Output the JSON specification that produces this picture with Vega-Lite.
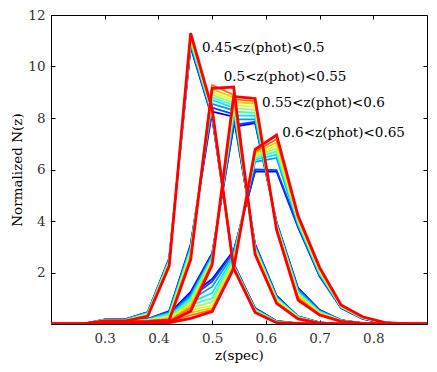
{
"$schema": "https://vega.github.io/schema/vega-lite/v6.json",
"width": 376, "height": 309,
"autosize": {"type": "none"},
"padding": {"left": 51, "top": 15, "right": 10, "bottom": 48},
"background": "white",
"config": {"view": {"stroke": "black", "strokeWidth": 1}, "font": "DejaVu Serif"},
"datasets": {
"labels": [
{"label": "0.45<z(phot)<0.5", "x": 0.481, "y": 10.72},
{"label": "0.5<z(phot)<0.55", "x": 0.5215, "y": 9.6},
{"label": "0.55<z(phot)<0.6", "x": 0.593, "y": 8.57},
{"label": "0.6<z(phot)<0.65", "x": 0.6305, "y": 7.4}
],
"nz": [
{"s":1,"g":1,"x":0.18,"y":0},{"s":1,"g":1,"x":0.26,"y":0},{"s":1,"g":1,"x":0.3,"y":0.18},{"s":1,"g":1,"x":0.34,"y":0.2},{"s":1,"g":1,"x":0.38,"y":0.46},{"s":1,"g":1,"x":0.42,"y":2.55},{"s":1,"g":1,"x":0.46,"y":10.75},{"s":1,"g":1,"x":0.5,"y":8.0},{"s":1,"g":1,"x":0.54,"y":2.35},{"s":1,"g":1,"x":0.58,"y":0.62},{"s":1,"g":1,"x":0.62,"y":0.12},{"s":1,"g":1,"x":0.66,"y":0.02},{"s":1,"g":1,"x":0.7,"y":0},{"s":1,"g":1,"x":0.94,"y":0},
{"s":1,"g":2,"x":0.18,"y":0},{"s":1,"g":2,"x":0.26,"y":0},{"s":1,"g":2,"x":0.3,"y":0.15},{"s":1,"g":2,"x":0.34,"y":0.15},{"s":1,"g":2,"x":0.38,"y":0.2},{"s":1,"g":2,"x":0.42,"y":0.5},{"s":1,"g":2,"x":0.46,"y":3.1},{"s":1,"g":2,"x":0.5,"y":8.25},{"s":1,"g":2,"x":0.54,"y":8.05},{"s":1,"g":2,"x":0.58,"y":3.1},{"s":1,"g":2,"x":0.62,"y":1.1},{"s":1,"g":2,"x":0.66,"y":0.3},{"s":1,"g":2,"x":0.7,"y":0.06},{"s":1,"g":2,"x":0.74,"y":0},{"s":1,"g":2,"x":0.94,"y":0},
{"s":1,"g":3,"x":0.18,"y":0},{"s":1,"g":3,"x":0.26,"y":0},{"s":1,"g":3,"x":0.3,"y":0.12},{"s":1,"g":3,"x":0.34,"y":0.1},{"s":1,"g":3,"x":0.38,"y":0.15},{"s":1,"g":3,"x":0.42,"y":0.4},{"s":1,"g":3,"x":0.46,"y":1.25},{"s":1,"g":3,"x":0.5,"y":2.75},{"s":1,"g":3,"x":0.54,"y":7.66},{"s":1,"g":3,"x":0.58,"y":7.8},{"s":1,"g":3,"x":0.62,"y":3.95},{"s":1,"g":3,"x":0.66,"y":1.4},{"s":1,"g":3,"x":0.7,"y":0.55},{"s":1,"g":3,"x":0.74,"y":0.15},{"s":1,"g":3,"x":0.78,"y":0.03},{"s":1,"g":3,"x":0.82,"y":0},{"s":1,"g":3,"x":0.94,"y":0},
{"s":1,"g":4,"x":0.18,"y":0},{"s":1,"g":4,"x":0.26,"y":0},{"s":1,"g":4,"x":0.3,"y":0.1},{"s":1,"g":4,"x":0.34,"y":0.1},{"s":1,"g":4,"x":0.38,"y":0.15},{"s":1,"g":4,"x":0.42,"y":0.45},{"s":1,"g":4,"x":0.46,"y":1.1},{"s":1,"g":4,"x":0.5,"y":1.75},{"s":1,"g":4,"x":0.54,"y":2.85},{"s":1,"g":4,"x":0.58,"y":5.92},{"s":1,"g":4,"x":0.62,"y":5.92},{"s":1,"g":4,"x":0.66,"y":3.75},{"s":1,"g":4,"x":0.7,"y":1.85},{"s":1,"g":4,"x":0.74,"y":0.62},{"s":1,"g":4,"x":0.78,"y":0.2},{"s":1,"g":4,"x":0.82,"y":0.03},{"s":1,"g":4,"x":0.86,"y":0},{"s":1,"g":4,"x":0.94,"y":0},

{"s":2,"g":1,"x":0.18,"y":0},{"s":2,"g":1,"x":0.26,"y":0},{"s":2,"g":1,"x":0.3,"y":0.18},{"s":2,"g":1,"x":0.34,"y":0.19},{"s":2,"g":1,"x":0.38,"y":0.45},{"s":2,"g":1,"x":0.42,"y":2.53},{"s":2,"g":1,"x":0.46,"y":10.8},{"s":2,"g":1,"x":0.5,"y":8.05},{"s":2,"g":1,"x":0.54,"y":2.33},{"s":2,"g":1,"x":0.58,"y":0.6},{"s":2,"g":1,"x":0.62,"y":0.11},{"s":2,"g":1,"x":0.66,"y":0.02},{"s":2,"g":1,"x":0.7,"y":0},{"s":2,"g":1,"x":0.94,"y":0},
{"s":2,"g":2,"x":0.18,"y":0},{"s":2,"g":2,"x":0.26,"y":0},{"s":2,"g":2,"x":0.3,"y":0.15},{"s":2,"g":2,"x":0.34,"y":0.14},{"s":2,"g":2,"x":0.38,"y":0.19},{"s":2,"g":2,"x":0.42,"y":0.47},{"s":2,"g":2,"x":0.46,"y":3.05},{"s":2,"g":2,"x":0.5,"y":8.4},{"s":2,"g":2,"x":0.54,"y":8.15},{"s":2,"g":2,"x":0.58,"y":3.06},{"s":2,"g":2,"x":0.62,"y":1.07},{"s":2,"g":2,"x":0.66,"y":0.29},{"s":2,"g":2,"x":0.7,"y":0.06},{"s":2,"g":2,"x":0.74,"y":0},{"s":2,"g":2,"x":0.94,"y":0},
{"s":2,"g":3,"x":0.18,"y":0},{"s":2,"g":3,"x":0.26,"y":0},{"s":2,"g":3,"x":0.3,"y":0.12},{"s":2,"g":3,"x":0.34,"y":0.1},{"s":2,"g":3,"x":0.38,"y":0.14},{"s":2,"g":3,"x":0.42,"y":0.37},{"s":2,"g":3,"x":0.46,"y":1.18},{"s":2,"g":3,"x":0.5,"y":2.7},{"s":2,"g":3,"x":0.54,"y":7.73},{"s":2,"g":3,"x":0.58,"y":7.85},{"s":2,"g":3,"x":0.62,"y":3.92},{"s":2,"g":3,"x":0.66,"y":1.36},{"s":2,"g":3,"x":0.7,"y":0.53},{"s":2,"g":3,"x":0.74,"y":0.15},{"s":2,"g":3,"x":0.78,"y":0.03},{"s":2,"g":3,"x":0.82,"y":0},{"s":2,"g":3,"x":0.94,"y":0},
{"s":2,"g":4,"x":0.18,"y":0},{"s":2,"g":4,"x":0.26,"y":0},{"s":2,"g":4,"x":0.3,"y":0.1},{"s":2,"g":4,"x":0.34,"y":0.09},{"s":2,"g":4,"x":0.38,"y":0.14},{"s":2,"g":4,"x":0.42,"y":0.42},{"s":2,"g":4,"x":0.46,"y":1.02},{"s":2,"g":4,"x":0.5,"y":1.65},{"s":2,"g":4,"x":0.54,"y":2.8},{"s":2,"g":4,"x":0.58,"y":6.0},{"s":2,"g":4,"x":0.62,"y":5.98},{"s":2,"g":4,"x":0.66,"y":3.8},{"s":2,"g":4,"x":0.7,"y":1.88},{"s":2,"g":4,"x":0.74,"y":0.63},{"s":2,"g":4,"x":0.78,"y":0.21},{"s":2,"g":4,"x":0.82,"y":0.03},{"s":2,"g":4,"x":0.86,"y":0},{"s":2,"g":4,"x":0.94,"y":0},

{"s":3,"g":1,"x":0.18,"y":0},{"s":3,"g":1,"x":0.26,"y":0},{"s":3,"g":1,"x":0.3,"y":0.17},{"s":3,"g":1,"x":0.34,"y":0.18},{"s":3,"g":1,"x":0.38,"y":0.44},{"s":3,"g":1,"x":0.42,"y":2.5},{"s":3,"g":1,"x":0.46,"y":10.87},{"s":3,"g":1,"x":0.5,"y":8.1},{"s":3,"g":1,"x":0.54,"y":2.31},{"s":3,"g":1,"x":0.58,"y":0.58},{"s":3,"g":1,"x":0.62,"y":0.1},{"s":3,"g":1,"x":0.66,"y":0.02},{"s":3,"g":1,"x":0.7,"y":0},{"s":3,"g":1,"x":0.94,"y":0},
{"s":3,"g":2,"x":0.18,"y":0},{"s":3,"g":2,"x":0.26,"y":0},{"s":3,"g":2,"x":0.3,"y":0.14},{"s":3,"g":2,"x":0.34,"y":0.14},{"s":3,"g":2,"x":0.38,"y":0.18},{"s":3,"g":2,"x":0.42,"y":0.44},{"s":3,"g":2,"x":0.46,"y":3.0},{"s":3,"g":2,"x":0.5,"y":8.55},{"s":3,"g":2,"x":0.54,"y":8.3},{"s":3,"g":2,"x":0.58,"y":3.02},{"s":3,"g":2,"x":0.62,"y":1.04},{"s":3,"g":2,"x":0.66,"y":0.28},{"s":3,"g":2,"x":0.7,"y":0.05},{"s":3,"g":2,"x":0.74,"y":0},{"s":3,"g":2,"x":0.94,"y":0},
{"s":3,"g":3,"x":0.18,"y":0},{"s":3,"g":3,"x":0.26,"y":0},{"s":3,"g":3,"x":0.3,"y":0.11},{"s":3,"g":3,"x":0.34,"y":0.09},{"s":3,"g":3,"x":0.38,"y":0.13},{"s":3,"g":3,"x":0.42,"y":0.33},{"s":3,"g":3,"x":0.46,"y":1.1},{"s":3,"g":3,"x":0.5,"y":2.65},{"s":3,"g":3,"x":0.54,"y":7.95},{"s":3,"g":3,"x":0.58,"y":7.95},{"s":3,"g":3,"x":0.62,"y":3.89},{"s":3,"g":3,"x":0.66,"y":1.31},{"s":3,"g":3,"x":0.7,"y":0.51},{"s":3,"g":3,"x":0.74,"y":0.14},{"s":3,"g":3,"x":0.78,"y":0.03},{"s":3,"g":3,"x":0.82,"y":0},{"s":3,"g":3,"x":0.94,"y":0},
{"s":3,"g":4,"x":0.18,"y":0},{"s":3,"g":4,"x":0.26,"y":0},{"s":3,"g":4,"x":0.3,"y":0.09},{"s":3,"g":4,"x":0.34,"y":0.09},{"s":3,"g":4,"x":0.38,"y":0.13},{"s":3,"g":4,"x":0.42,"y":0.38},{"s":3,"g":4,"x":0.46,"y":0.93},{"s":3,"g":4,"x":0.5,"y":1.45},{"s":3,"g":4,"x":0.54,"y":2.72},{"s":3,"g":4,"x":0.58,"y":6.3},{"s":3,"g":4,"x":0.62,"y":6.45},{"s":3,"g":4,"x":0.66,"y":3.85},{"s":3,"g":4,"x":0.7,"y":1.92},{"s":3,"g":4,"x":0.74,"y":0.64},{"s":3,"g":4,"x":0.78,"y":0.22},{"s":3,"g":4,"x":0.82,"y":0.04},{"s":3,"g":4,"x":0.86,"y":0},{"s":3,"g":4,"x":0.94,"y":0},

{"s":4,"g":1,"x":0.18,"y":0},{"s":4,"g":1,"x":0.26,"y":0},{"s":4,"g":1,"x":0.3,"y":0.17},{"s":4,"g":1,"x":0.34,"y":0.17},{"s":4,"g":1,"x":0.38,"y":0.42},{"s":4,"g":1,"x":0.42,"y":2.47},{"s":4,"g":1,"x":0.46,"y":10.93},{"s":4,"g":1,"x":0.5,"y":8.14},{"s":4,"g":1,"x":0.54,"y":2.29},{"s":4,"g":1,"x":0.58,"y":0.56},{"s":4,"g":1,"x":0.62,"y":0.1},{"s":4,"g":1,"x":0.66,"y":0.02},{"s":4,"g":1,"x":0.7,"y":0},{"s":4,"g":1,"x":0.94,"y":0},
{"s":4,"g":2,"x":0.18,"y":0},{"s":4,"g":2,"x":0.26,"y":0},{"s":4,"g":2,"x":0.3,"y":0.14},{"s":4,"g":2,"x":0.34,"y":0.13},{"s":4,"g":2,"x":0.38,"y":0.17},{"s":4,"g":2,"x":0.42,"y":0.4},{"s":4,"g":2,"x":0.46,"y":2.93},{"s":4,"g":2,"x":0.5,"y":8.7},{"s":4,"g":2,"x":0.54,"y":8.4},{"s":4,"g":2,"x":0.58,"y":2.98},{"s":4,"g":2,"x":0.62,"y":1.01},{"s":4,"g":2,"x":0.66,"y":0.27},{"s":4,"g":2,"x":0.7,"y":0.05},{"s":4,"g":2,"x":0.74,"y":0},{"s":4,"g":2,"x":0.94,"y":0},
{"s":4,"g":3,"x":0.18,"y":0},{"s":4,"g":3,"x":0.26,"y":0},{"s":4,"g":3,"x":0.3,"y":0.11},{"s":4,"g":3,"x":0.34,"y":0.09},{"s":4,"g":3,"x":0.38,"y":0.12},{"s":4,"g":3,"x":0.42,"y":0.3},{"s":4,"g":3,"x":0.46,"y":1.02},{"s":4,"g":3,"x":0.5,"y":2.6},{"s":4,"g":3,"x":0.54,"y":8.1},{"s":4,"g":3,"x":0.58,"y":8.08},{"s":4,"g":3,"x":0.62,"y":3.86},{"s":4,"g":3,"x":0.66,"y":1.26},{"s":4,"g":3,"x":0.7,"y":0.48},{"s":4,"g":3,"x":0.74,"y":0.14},{"s":4,"g":3,"x":0.78,"y":0.03},{"s":4,"g":3,"x":0.82,"y":0},{"s":4,"g":3,"x":0.94,"y":0},
{"s":4,"g":4,"x":0.18,"y":0},{"s":4,"g":4,"x":0.26,"y":0},{"s":4,"g":4,"x":0.3,"y":0.09},{"s":4,"g":4,"x":0.34,"y":0.08},{"s":4,"g":4,"x":0.38,"y":0.11},{"s":4,"g":4,"x":0.42,"y":0.33},{"s":4,"g":4,"x":0.46,"y":0.84},{"s":4,"g":4,"x":0.5,"y":1.2},{"s":4,"g":4,"x":0.54,"y":2.62},{"s":4,"g":4,"x":0.58,"y":6.38},{"s":4,"g":4,"x":0.62,"y":6.58},{"s":4,"g":4,"x":0.66,"y":3.9},{"s":4,"g":4,"x":0.7,"y":1.96},{"s":4,"g":4,"x":0.74,"y":0.66},{"s":4,"g":4,"x":0.78,"y":0.23},{"s":4,"g":4,"x":0.82,"y":0.04},{"s":4,"g":4,"x":0.86,"y":0},{"s":4,"g":4,"x":0.94,"y":0},

{"s":5,"g":1,"x":0.18,"y":0},{"s":5,"g":1,"x":0.26,"y":0},{"s":5,"g":1,"x":0.3,"y":0.16},{"s":5,"g":1,"x":0.34,"y":0.16},{"s":5,"g":1,"x":0.38,"y":0.4},{"s":5,"g":1,"x":0.42,"y":2.43},{"s":5,"g":1,"x":0.46,"y":11.0},{"s":5,"g":1,"x":0.5,"y":8.18},{"s":5,"g":1,"x":0.54,"y":2.27},{"s":5,"g":1,"x":0.58,"y":0.54},{"s":5,"g":1,"x":0.62,"y":0.09},{"s":5,"g":1,"x":0.66,"y":0.02},{"s":5,"g":1,"x":0.7,"y":0},{"s":5,"g":1,"x":0.94,"y":0},
{"s":5,"g":2,"x":0.18,"y":0},{"s":5,"g":2,"x":0.26,"y":0},{"s":5,"g":2,"x":0.3,"y":0.13},{"s":5,"g":2,"x":0.34,"y":0.12},{"s":5,"g":2,"x":0.38,"y":0.16},{"s":5,"g":2,"x":0.42,"y":0.36},{"s":5,"g":2,"x":0.46,"y":2.86},{"s":5,"g":2,"x":0.5,"y":8.8},{"s":5,"g":2,"x":0.54,"y":8.5},{"s":5,"g":2,"x":0.58,"y":2.94},{"s":5,"g":2,"x":0.62,"y":0.98},{"s":5,"g":2,"x":0.66,"y":0.26},{"s":5,"g":2,"x":0.7,"y":0.05},{"s":5,"g":2,"x":0.74,"y":0},{"s":5,"g":2,"x":0.94,"y":0},
{"s":5,"g":3,"x":0.18,"y":0},{"s":5,"g":3,"x":0.26,"y":0},{"s":5,"g":3,"x":0.3,"y":0.1},{"s":5,"g":3,"x":0.34,"y":0.08},{"s":5,"g":3,"x":0.38,"y":0.11},{"s":5,"g":3,"x":0.42,"y":0.26},{"s":5,"g":3,"x":0.46,"y":0.95},{"s":5,"g":3,"x":0.5,"y":2.55},{"s":5,"g":3,"x":0.54,"y":8.25},{"s":5,"g":3,"x":0.58,"y":8.2},{"s":5,"g":3,"x":0.62,"y":3.83},{"s":5,"g":3,"x":0.66,"y":1.21},{"s":5,"g":3,"x":0.7,"y":0.46},{"s":5,"g":3,"x":0.74,"y":0.13},{"s":5,"g":3,"x":0.78,"y":0.02},{"s":5,"g":3,"x":0.82,"y":0},{"s":5,"g":3,"x":0.94,"y":0},
{"s":5,"g":4,"x":0.18,"y":0},{"s":5,"g":4,"x":0.26,"y":0},{"s":5,"g":4,"x":0.3,"y":0.08},{"s":5,"g":4,"x":0.34,"y":0.07},{"s":5,"g":4,"x":0.38,"y":0.1},{"s":5,"g":4,"x":0.42,"y":0.28},{"s":5,"g":4,"x":0.46,"y":0.74},{"s":5,"g":4,"x":0.5,"y":1.0},{"s":5,"g":4,"x":0.54,"y":2.52},{"s":5,"g":4,"x":0.58,"y":6.45},{"s":5,"g":4,"x":0.62,"y":6.7},{"s":5,"g":4,"x":0.66,"y":3.95},{"s":5,"g":4,"x":0.7,"y":2.0},{"s":5,"g":4,"x":0.74,"y":0.67},{"s":5,"g":4,"x":0.78,"y":0.24},{"s":5,"g":4,"x":0.82,"y":0.04},{"s":5,"g":4,"x":0.86,"y":0},{"s":5,"g":4,"x":0.94,"y":0},

{"s":6,"g":1,"x":0.18,"y":0},{"s":6,"g":1,"x":0.26,"y":0},{"s":6,"g":1,"x":0.3,"y":0.15},{"s":6,"g":1,"x":0.34,"y":0.15},{"s":6,"g":1,"x":0.38,"y":0.38},{"s":6,"g":1,"x":0.42,"y":2.4},{"s":6,"g":1,"x":0.46,"y":11.06},{"s":6,"g":1,"x":0.5,"y":8.22},{"s":6,"g":1,"x":0.54,"y":2.25},{"s":6,"g":1,"x":0.58,"y":0.52},{"s":6,"g":1,"x":0.62,"y":0.08},{"s":6,"g":1,"x":0.66,"y":0.02},{"s":6,"g":1,"x":0.7,"y":0},{"s":6,"g":1,"x":0.94,"y":0},
{"s":6,"g":2,"x":0.18,"y":0},{"s":6,"g":2,"x":0.26,"y":0},{"s":6,"g":2,"x":0.3,"y":0.13},{"s":6,"g":2,"x":0.34,"y":0.11},{"s":6,"g":2,"x":0.38,"y":0.14},{"s":6,"g":2,"x":0.42,"y":0.32},{"s":6,"g":2,"x":0.46,"y":2.8},{"s":6,"g":2,"x":0.5,"y":8.9},{"s":6,"g":2,"x":0.54,"y":8.6},{"s":6,"g":2,"x":0.58,"y":2.9},{"s":6,"g":2,"x":0.62,"y":0.95},{"s":6,"g":2,"x":0.66,"y":0.25},{"s":6,"g":2,"x":0.7,"y":0.04},{"s":6,"g":2,"x":0.74,"y":0},{"s":6,"g":2,"x":0.94,"y":0},
{"s":6,"g":3,"x":0.18,"y":0},{"s":6,"g":3,"x":0.26,"y":0},{"s":6,"g":3,"x":0.3,"y":0.1},{"s":6,"g":3,"x":0.34,"y":0.07},{"s":6,"g":3,"x":0.38,"y":0.1},{"s":6,"g":3,"x":0.42,"y":0.23},{"s":6,"g":3,"x":0.46,"y":0.87},{"s":6,"g":3,"x":0.5,"y":2.5},{"s":6,"g":3,"x":0.54,"y":8.38},{"s":6,"g":3,"x":0.58,"y":8.32},{"s":6,"g":3,"x":0.62,"y":3.8},{"s":6,"g":3,"x":0.66,"y":1.16},{"s":6,"g":3,"x":0.7,"y":0.44},{"s":6,"g":3,"x":0.74,"y":0.13},{"s":6,"g":3,"x":0.78,"y":0.02},{"s":6,"g":3,"x":0.82,"y":0},{"s":6,"g":3,"x":0.94,"y":0},
{"s":6,"g":4,"x":0.18,"y":0},{"s":6,"g":4,"x":0.26,"y":0},{"s":6,"g":4,"x":0.3,"y":0.08},{"s":6,"g":4,"x":0.34,"y":0.06},{"s":6,"g":4,"x":0.38,"y":0.08},{"s":6,"g":4,"x":0.42,"y":0.23},{"s":6,"g":4,"x":0.46,"y":0.64},{"s":6,"g":4,"x":0.5,"y":0.85},{"s":6,"g":4,"x":0.54,"y":2.45},{"s":6,"g":4,"x":0.58,"y":6.52},{"s":6,"g":4,"x":0.62,"y":6.82},{"s":6,"g":4,"x":0.66,"y":4.0},{"s":6,"g":4,"x":0.7,"y":2.04},{"s":6,"g":4,"x":0.74,"y":0.68},{"s":6,"g":4,"x":0.78,"y":0.24},{"s":6,"g":4,"x":0.82,"y":0.05},{"s":6,"g":4,"x":0.86,"y":0},{"s":6,"g":4,"x":0.94,"y":0},

{"s":7,"g":1,"x":0.18,"y":0},{"s":7,"g":1,"x":0.26,"y":0},{"s":7,"g":1,"x":0.3,"y":0.14},{"s":7,"g":1,"x":0.34,"y":0.14},{"s":7,"g":1,"x":0.38,"y":0.36},{"s":7,"g":1,"x":0.42,"y":2.36},{"s":7,"g":1,"x":0.46,"y":11.12},{"s":7,"g":1,"x":0.5,"y":8.26},{"s":7,"g":1,"x":0.54,"y":2.23},{"s":7,"g":1,"x":0.58,"y":0.5},{"s":7,"g":1,"x":0.62,"y":0.07},{"s":7,"g":1,"x":0.66,"y":0.02},{"s":7,"g":1,"x":0.7,"y":0},{"s":7,"g":1,"x":0.94,"y":0},
{"s":7,"g":2,"x":0.18,"y":0},{"s":7,"g":2,"x":0.26,"y":0},{"s":7,"g":2,"x":0.3,"y":0.12},{"s":7,"g":2,"x":0.34,"y":0.1},{"s":7,"g":2,"x":0.38,"y":0.13},{"s":7,"g":2,"x":0.42,"y":0.28},{"s":7,"g":2,"x":0.46,"y":2.73},{"s":7,"g":2,"x":0.5,"y":9.0},{"s":7,"g":2,"x":0.54,"y":8.7},{"s":7,"g":2,"x":0.58,"y":2.85},{"s":7,"g":2,"x":0.62,"y":0.91},{"s":7,"g":2,"x":0.66,"y":0.24},{"s":7,"g":2,"x":0.7,"y":0.04},{"s":7,"g":2,"x":0.74,"y":0},{"s":7,"g":2,"x":0.94,"y":0},
{"s":7,"g":3,"x":0.18,"y":0},{"s":7,"g":3,"x":0.26,"y":0},{"s":7,"g":3,"x":0.3,"y":0.09},{"s":7,"g":3,"x":0.34,"y":0.07},{"s":7,"g":3,"x":0.38,"y":0.09},{"s":7,"g":3,"x":0.42,"y":0.19},{"s":7,"g":3,"x":0.46,"y":0.8},{"s":7,"g":3,"x":0.5,"y":2.45},{"s":7,"g":3,"x":0.54,"y":8.5},{"s":7,"g":3,"x":0.58,"y":8.44},{"s":7,"g":3,"x":0.62,"y":3.76},{"s":7,"g":3,"x":0.66,"y":1.11},{"s":7,"g":3,"x":0.7,"y":0.42},{"s":7,"g":3,"x":0.74,"y":0.12},{"s":7,"g":3,"x":0.78,"y":0.02},{"s":7,"g":3,"x":0.82,"y":0},{"s":7,"g":3,"x":0.94,"y":0},
{"s":7,"g":4,"x":0.18,"y":0},{"s":7,"g":4,"x":0.26,"y":0},{"s":7,"g":4,"x":0.3,"y":0.07},{"s":7,"g":4,"x":0.34,"y":0.05},{"s":7,"g":4,"x":0.38,"y":0.07},{"s":7,"g":4,"x":0.42,"y":0.18},{"s":7,"g":4,"x":0.46,"y":0.54},{"s":7,"g":4,"x":0.5,"y":0.72},{"s":7,"g":4,"x":0.54,"y":2.38},{"s":7,"g":4,"x":0.58,"y":6.58},{"s":7,"g":4,"x":0.62,"y":6.93},{"s":7,"g":4,"x":0.66,"y":4.05},{"s":7,"g":4,"x":0.7,"y":2.08},{"s":7,"g":4,"x":0.74,"y":0.7},{"s":7,"g":4,"x":0.78,"y":0.25},{"s":7,"g":4,"x":0.82,"y":0.05},{"s":7,"g":4,"x":0.86,"y":0},{"s":7,"g":4,"x":0.94,"y":0},

{"s":8,"g":1,"x":0.18,"y":0},{"s":8,"g":1,"x":0.26,"y":0},{"s":8,"g":1,"x":0.3,"y":0.14},{"s":8,"g":1,"x":0.34,"y":0.13},{"s":8,"g":1,"x":0.38,"y":0.34},{"s":8,"g":1,"x":0.42,"y":2.32},{"s":8,"g":1,"x":0.46,"y":11.18},{"s":8,"g":1,"x":0.5,"y":8.3},{"s":8,"g":1,"x":0.54,"y":2.2},{"s":8,"g":1,"x":0.58,"y":0.48},{"s":8,"g":1,"x":0.62,"y":0.06},{"s":8,"g":1,"x":0.66,"y":0.02},{"s":8,"g":1,"x":0.7,"y":0},{"s":8,"g":1,"x":0.94,"y":0},
{"s":8,"g":2,"x":0.18,"y":0},{"s":8,"g":2,"x":0.26,"y":0},{"s":8,"g":2,"x":0.3,"y":0.11},{"s":8,"g":2,"x":0.34,"y":0.09},{"s":8,"g":2,"x":0.38,"y":0.12},{"s":8,"g":2,"x":0.42,"y":0.23},{"s":8,"g":2,"x":0.46,"y":2.66},{"s":8,"g":2,"x":0.5,"y":9.12},{"s":8,"g":2,"x":0.54,"y":8.8},{"s":8,"g":2,"x":0.58,"y":2.8},{"s":8,"g":2,"x":0.62,"y":0.87},{"s":8,"g":2,"x":0.66,"y":0.22},{"s":8,"g":2,"x":0.7,"y":0.04},{"s":8,"g":2,"x":0.74,"y":0},{"s":8,"g":2,"x":0.94,"y":0},
{"s":8,"g":3,"x":0.18,"y":0},{"s":8,"g":3,"x":0.26,"y":0},{"s":8,"g":3,"x":0.3,"y":0.09},{"s":8,"g":3,"x":0.34,"y":0.06},{"s":8,"g":3,"x":0.38,"y":0.08},{"s":8,"g":3,"x":0.42,"y":0.15},{"s":8,"g":3,"x":0.46,"y":0.72},{"s":8,"g":3,"x":0.5,"y":2.4},{"s":8,"g":3,"x":0.54,"y":8.62},{"s":8,"g":3,"x":0.58,"y":8.56},{"s":8,"g":3,"x":0.62,"y":3.72},{"s":8,"g":3,"x":0.66,"y":1.06},{"s":8,"g":3,"x":0.7,"y":0.4},{"s":8,"g":3,"x":0.74,"y":0.11},{"s":8,"g":3,"x":0.78,"y":0.02},{"s":8,"g":3,"x":0.82,"y":0},{"s":8,"g":3,"x":0.94,"y":0},
{"s":8,"g":4,"x":0.18,"y":0},{"s":8,"g":4,"x":0.26,"y":0},{"s":8,"g":4,"x":0.3,"y":0.06},{"s":8,"g":4,"x":0.34,"y":0.04},{"s":8,"g":4,"x":0.38,"y":0.05},{"s":8,"g":4,"x":0.42,"y":0.13},{"s":8,"g":4,"x":0.46,"y":0.44},{"s":8,"g":4,"x":0.5,"y":0.62},{"s":8,"g":4,"x":0.54,"y":2.3},{"s":8,"g":4,"x":0.58,"y":6.64},{"s":8,"g":4,"x":0.62,"y":7.05},{"s":8,"g":4,"x":0.66,"y":4.1},{"s":8,"g":4,"x":0.7,"y":2.12},{"s":8,"g":4,"x":0.74,"y":0.71},{"s":8,"g":4,"x":0.78,"y":0.26},{"s":8,"g":4,"x":0.82,"y":0.05},{"s":8,"g":4,"x":0.86,"y":0},{"s":8,"g":4,"x":0.94,"y":0},

{"s":9,"g":1,"x":0.18,"y":0},{"s":9,"g":1,"x":0.26,"y":0},{"s":9,"g":1,"x":0.3,"y":0.13},{"s":9,"g":1,"x":0.34,"y":0.13},{"s":9,"g":1,"x":0.38,"y":0.32},{"s":9,"g":1,"x":0.42,"y":2.28},{"s":9,"g":1,"x":0.46,"y":11.24},{"s":9,"g":1,"x":0.5,"y":8.33},{"s":9,"g":1,"x":0.54,"y":2.18},{"s":9,"g":1,"x":0.58,"y":0.46},{"s":9,"g":1,"x":0.62,"y":0.06},{"s":9,"g":1,"x":0.66,"y":0.02},{"s":9,"g":1,"x":0.7,"y":0},{"s":9,"g":1,"x":0.94,"y":0},
{"s":9,"g":2,"x":0.18,"y":0},{"s":9,"g":2,"x":0.26,"y":0},{"s":9,"g":2,"x":0.3,"y":0.11},{"s":9,"g":2,"x":0.34,"y":0.09},{"s":9,"g":2,"x":0.38,"y":0.11},{"s":9,"g":2,"x":0.42,"y":0.19},{"s":9,"g":2,"x":0.46,"y":2.58},{"s":9,"g":2,"x":0.5,"y":9.28},{"s":9,"g":2,"x":0.54,"y":8.9},{"s":9,"g":2,"x":0.58,"y":2.75},{"s":9,"g":2,"x":0.62,"y":0.83},{"s":9,"g":2,"x":0.66,"y":0.21},{"s":9,"g":2,"x":0.7,"y":0.03},{"s":9,"g":2,"x":0.74,"y":0},{"s":9,"g":2,"x":0.94,"y":0},
{"s":9,"g":3,"x":0.18,"y":0},{"s":9,"g":3,"x":0.26,"y":0},{"s":9,"g":3,"x":0.3,"y":0.08},{"s":9,"g":3,"x":0.34,"y":0.06},{"s":9,"g":3,"x":0.38,"y":0.06},{"s":9,"g":3,"x":0.42,"y":0.11},{"s":9,"g":3,"x":0.46,"y":0.63},{"s":9,"g":3,"x":0.5,"y":2.35},{"s":9,"g":3,"x":0.54,"y":8.72},{"s":9,"g":3,"x":0.58,"y":8.66},{"s":9,"g":3,"x":0.62,"y":3.68},{"s":9,"g":3,"x":0.66,"y":1.0},{"s":9,"g":3,"x":0.7,"y":0.37},{"s":9,"g":3,"x":0.74,"y":0.11},{"s":9,"g":3,"x":0.78,"y":0.02},{"s":9,"g":3,"x":0.82,"y":0},{"s":9,"g":3,"x":0.94,"y":0},
{"s":9,"g":4,"x":0.18,"y":0},{"s":9,"g":4,"x":0.26,"y":0},{"s":9,"g":4,"x":0.3,"y":0.06},{"s":9,"g":4,"x":0.34,"y":0.04},{"s":9,"g":4,"x":0.38,"y":0.04},{"s":9,"g":4,"x":0.42,"y":0.09},{"s":9,"g":4,"x":0.46,"y":0.34},{"s":9,"g":4,"x":0.5,"y":0.55},{"s":9,"g":4,"x":0.54,"y":2.22},{"s":9,"g":4,"x":0.58,"y":6.7},{"s":9,"g":4,"x":0.62,"y":7.18},{"s":9,"g":4,"x":0.66,"y":4.15},{"s":9,"g":4,"x":0.7,"y":2.16},{"s":9,"g":4,"x":0.74,"y":0.72},{"s":9,"g":4,"x":0.78,"y":0.27},{"s":9,"g":4,"x":0.82,"y":0.06},{"s":9,"g":4,"x":0.86,"y":0},{"s":9,"g":4,"x":0.94,"y":0},

{"s":10,"g":1,"x":0.18,"y":0},{"s":10,"g":1,"x":0.26,"y":0},{"s":10,"g":1,"x":0.3,"y":0.12},{"s":10,"g":1,"x":0.34,"y":0.12},{"s":10,"g":1,"x":0.38,"y":0.3},{"s":10,"g":1,"x":0.42,"y":2.25},{"s":10,"g":1,"x":0.46,"y":11.3},{"s":10,"g":1,"x":0.5,"y":8.36},{"s":10,"g":1,"x":0.54,"y":2.16},{"s":10,"g":1,"x":0.58,"y":0.45},{"s":10,"g":1,"x":0.62,"y":0.05},{"s":10,"g":1,"x":0.66,"y":0.02},{"s":10,"g":1,"x":0.7,"y":0},{"s":10,"g":1,"x":0.94,"y":0},
{"s":10,"g":2,"x":0.18,"y":0},{"s":10,"g":2,"x":0.26,"y":0},{"s":10,"g":2,"x":0.3,"y":0.1},{"s":10,"g":2,"x":0.34,"y":0.08},{"s":10,"g":2,"x":0.38,"y":0.1},{"s":10,"g":2,"x":0.42,"y":0.15},{"s":10,"g":2,"x":0.46,"y":2.5},{"s":10,"g":2,"x":0.5,"y":9.15},{"s":10,"g":2,"x":0.54,"y":9.2},{"s":10,"g":2,"x":0.58,"y":2.7},{"s":10,"g":2,"x":0.62,"y":0.8},{"s":10,"g":2,"x":0.66,"y":0.2},{"s":10,"g":2,"x":0.7,"y":0.03},{"s":10,"g":2,"x":0.74,"y":0},{"s":10,"g":2,"x":0.94,"y":0},
{"s":10,"g":3,"x":0.18,"y":0},{"s":10,"g":3,"x":0.26,"y":0},{"s":10,"g":3,"x":0.3,"y":0.08},{"s":10,"g":3,"x":0.34,"y":0.05},{"s":10,"g":3,"x":0.38,"y":0.05},{"s":10,"g":3,"x":0.42,"y":0.08},{"s":10,"g":3,"x":0.46,"y":0.5},{"s":10,"g":3,"x":0.5,"y":2.3},{"s":10,"g":3,"x":0.54,"y":8.83},{"s":10,"g":3,"x":0.58,"y":8.76},{"s":10,"g":3,"x":0.62,"y":3.65},{"s":10,"g":3,"x":0.66,"y":0.93},{"s":10,"g":3,"x":0.7,"y":0.35},{"s":10,"g":3,"x":0.74,"y":0.1},{"s":10,"g":3,"x":0.78,"y":0.02},{"s":10,"g":3,"x":0.82,"y":0},{"s":10,"g":3,"x":0.94,"y":0},
{"s":10,"g":4,"x":0.18,"y":0},{"s":10,"g":4,"x":0.26,"y":0},{"s":10,"g":4,"x":0.3,"y":0.05},{"s":10,"g":4,"x":0.34,"y":0.03},{"s":10,"g":4,"x":0.38,"y":0.02},{"s":10,"g":4,"x":0.42,"y":0.05},{"s":10,"g":4,"x":0.46,"y":0.22},{"s":10,"g":4,"x":0.5,"y":0.48},{"s":10,"g":4,"x":0.54,"y":2.15},{"s":10,"g":4,"x":0.58,"y":6.78},{"s":10,"g":4,"x":0.62,"y":7.34},{"s":10,"g":4,"x":0.66,"y":4.2},{"s":10,"g":4,"x":0.7,"y":2.2},{"s":10,"g":4,"x":0.74,"y":0.74},{"s":10,"g":4,"x":0.78,"y":0.28},{"s":10,"g":4,"x":0.82,"y":0.06},{"s":10,"g":4,"x":0.86,"y":0},{"s":10,"g":4,"x":0.94,"y":0}
]
},
"layer": [
{
"data": {"name": "nz"},
"transform": [{"filter": "datum.s < 10"}],
"mark": {"type": "line", "strokeWidth": 1.8, "clip": true},
"encoding": {
"x": {"field": "x", "type": "quantitative", "scale": {"domain": [0.2, 0.9], "nice": false, "zero": false},
"axis": {"orient": "bottom", "values": [0.3, 0.4, 0.5, 0.6, 0.7, 0.8], "format": ".1f", "grid": false,
"domainColor": "black", "tickColor": "black", "tickSize": -4, "tickWidth": 1, "labelPadding": 11,
"labelFont": "DejaVu Serif", "labelFontSize": 13.5, "labelColor": "#333333", "labelFlush": false,
"title": "z(spec)", "titleFont": "DejaVu Serif", "titleFontSize": 13.5, "titleFontWeight": "normal", "titleColor": "black",
"titleX": 188, "titleY": 31, "titleBaseline": "middle", "titleAlign": "center"}},
"y": {"field": "y", "type": "quantitative", "scale": {"domain": [0, 12], "nice": false},
"axis": {"orient": "left", "values": [2, 4, 6, 8, 10, 12], "format": "d", "grid": false,
"domainColor": "black", "tickColor": "black", "tickSize": -4, "tickWidth": 1, "labelPadding": 10,
"labelFont": "DejaVu Serif", "labelFontSize": 13.5, "labelColor": "#333333", "labelFlush": false,
"title": "Normalized N(z)", "titleFont": "DejaVu Serif", "titleFontSize": 13.5, "titleFontWeight": "normal", "titleColor": "black",
"titleAngle": -90, "titleX": -34, "titleY": 154.5, "titleBaseline": "middle", "titleAlign": "center"}},
"color": {"field": "s", "type": "nominal", "scale": {"domain": [1,2,3,4,5,6,7,8,9,10], "range": ["#0000f5","#0046ff","#009aff","#00e8ff","#44ffbb","#94ff6b","#e2ff1c","#ffc400","#ff7000","#ff0000"]}, "legend": null},
"detail": {"field": "g"}
}
},
{
"data": {"name": "nz"},
"transform": [{"filter": "datum.s == 10"}],
"mark": {"type": "line", "strokeWidth": 2.8, "color": "#ff0000", "clip": true},
"encoding": {
"x": {"field": "x", "type": "quantitative", "scale": {"domain": [0.2, 0.9], "nice": false, "zero": false},
"axis": {"orient": "top", "values": [0.3, 0.4, 0.5, 0.6, 0.7, 0.8], "labels": false, "title": null, "grid": false, "domain": false,
"tickColor": "black", "tickSize": -4, "tickWidth": 1}},
"y": {"field": "y", "type": "quantitative", "scale": {"domain": [0, 12], "nice": false},
"axis": {"orient": "right", "values": [2, 4, 6, 8, 10], "labels": false, "title": null, "grid": false, "domain": false,
"tickColor": "black", "tickSize": -4, "tickWidth": 1}},
"detail": {"field": "g"}
}
},
{
"data": {"name": "labels"},
"mark": {"type": "text", "align": "left", "baseline": "middle", "font": "DejaVu Serif", "fontSize": 13.5, "color": "black"},
"encoding": {
"x": {"field": "x", "type": "quantitative", "scale": {"domain": [0.2, 0.9], "nice": false, "zero": false}, "axis": null},
"y": {"field": "y", "type": "quantitative", "scale": {"domain": [0, 12], "nice": false}, "axis": null},
"text": {"field": "label"}
}
}
],
"resolve": {"axis": {"x": "independent", "y": "independent"}}
}
